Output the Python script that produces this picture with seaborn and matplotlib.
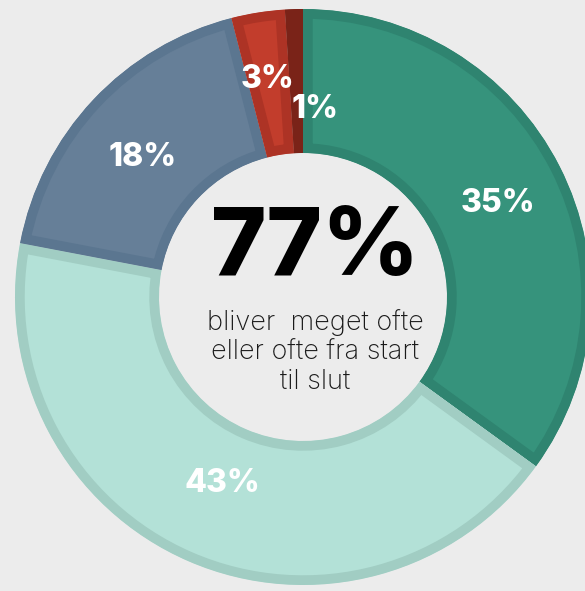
import matplotlib
matplotlib.use("Agg")
import matplotlib.pyplot as plt
import seaborn as sns
import numpy as np

sns.set_theme(style="white")
plt.rcParams['font.family'] = ['Inter', 'DejaVu Sans']

categories = ["Meget ofte", "Ofte", "Nogle gange", "Sjældent", "Aldrig"]
values = [35, 43, 18, 3, 1]
labels = ["35%", "43%", "18%", "3%", "1%"]
fill_colors = ["#36937c", "#b3e1d7", "#667f98", "#c23d2c", "#7e2419"]
edge_colors = ["#2f8470", "#a1cdc3", "#5b7690", "#ad3325", "#7a2318"]
center_value = "77%"
center_text = "bliver  meget ofte\neller ofte fra start\ntil slut"

W, H = 585, 591
fig = plt.figure(figsize=(W / 100, H / 100), dpi=100)
bg = "#ececec"
fig.patch.set_facecolor(bg)
ax = fig.add_axes([0, 0, 1, 1])
ax.set_facecolor(bg)

cx, cy, R = 303, 297, 288  # pixels

wedges, _ = ax.pie(values, colors=fill_colors, startangle=90, counterclock=False,
                   radius=1.0, wedgeprops=dict(width=0.5, linewidth=14, edgecolor="none"))
ax.set_xlim(-cx / R, (W - cx) / R)
ax.set_ylim(-(H - cy) / R, cy / R)
ax.set_aspect("auto")
ax.axis("off")
for w, ec in zip(wedges, edge_colors):
    w.set_edgecolor(ec)
    w.set_clip_on(True)
    w.set_clip_path(w)

# label positions (pixel coords of reference, converted)
label_px = [(498, 203), (222, 483), (143, 157), (268, 80), (315, 110)]
for lab, (px, py) in zip(labels, label_px):
    ax.text((px - cx) / R, (cy - py) / R, lab, color="white", fontsize=23,
            fontweight="heavy", ha="center", va="center", zorder=5)

ax.text((315 - cx) / R, (cy - 250) / R, center_value, color="black", fontsize=68,
        fontweight="heavy", ha="center", va="center")
ax.text((315 - cx) / R, (cy - 352) / R, center_text, color="#1a1a1a", fontsize=19.5,
        fontweight="light", ha="center", va="center", linespacing=1.15)

fig.savefig("out.png", dpi=100, facecolor=bg)
